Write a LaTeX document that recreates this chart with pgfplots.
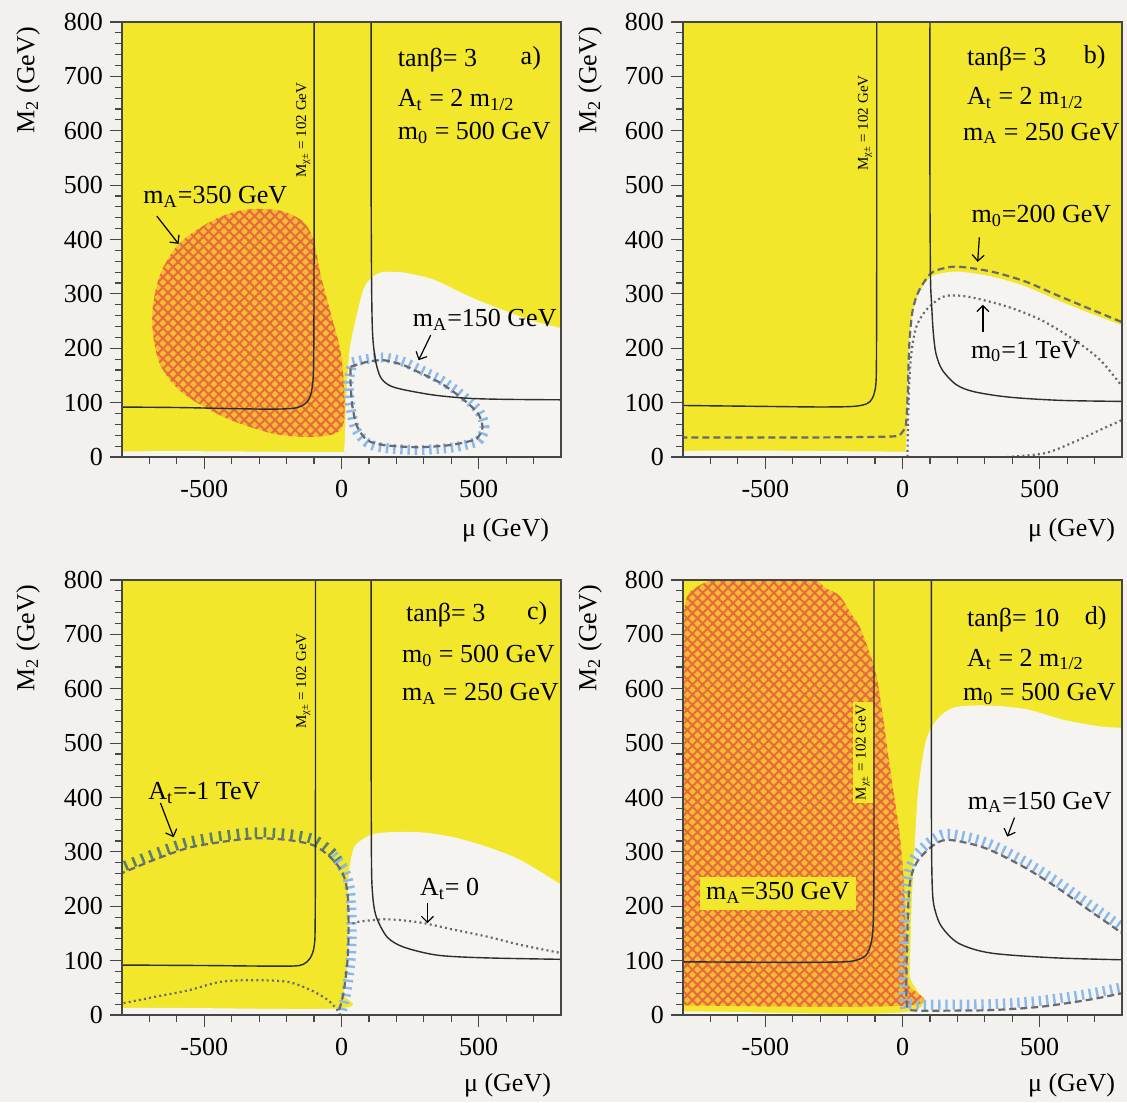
\documentclass[border=0pt]{standalone}
\usepackage{fontspec}
\setmainfont{Liberation Serif}
\usepackage{pgfplots}
\pgfplotsset{compat=1.18}
\usetikzlibrary{patterns.meta, arrows.meta}

\definecolor{ybg}{RGB}{242,231,42}
\definecolor{wbg}{RGB}{245,244,240}
\definecolor{pagebg}{RGB}{242,241,237}
\definecolor{orng}{RGB}{244,188,48}
\definecolor{hred}{RGB}{232,105,62}
\definecolor{hblue}{RGB}{140,185,235}
\definecolor{hgreen}{RGB}{90,130,105}
\definecolor{frameclr}{RGB}{70,70,70}
\definecolor{curveclr}{RGB}{45,45,45}
\definecolor{dline}{RGB}{105,105,115}

\newcommand{\fs}{\fontsize{13}{15}\selectfont}
\newcommand{\fsm}{\fontsize{7.5}{8}\selectfont}

\pgfplotsset{
  panel/.style={
    scale only axis, width=219.5pt, height=217.5pt, anchor=south west,
    xmin=-800, xmax=800, ymin=0, ymax=800,
    xtick={-500,0,500},
    minor xtick={-700,-600,-400,-300,-200,-100,100,200,300,400,600,700},
    ytick={0,100,...,800}, minor y tick num=4,
    xtick pos=left, ytick pos=left, tick align=outside,
    major tick length=6pt, minor tick length=3.5pt,
    every tick/.append style={frameclr, line width=0.6pt},
    axis line style={frameclr, line width=0.7pt},
    axis on top=true,
    tick label style={font=\fs, black},
    /pgf/number format/assume math mode=true,
    xticklabel style={yshift=-2pt},
  },
  solidc/.style={curveclr, line width=0.7pt, smooth, no marks},
  dashc/.style={dline, line width=1.1pt, dash pattern=on 3.5pt off 2pt, smooth, no marks},
  dotc/.style={dline, line width=1.1pt, dash pattern=on 1pt off 1.6pt, smooth, no marks},
  reg/.style={draw=none, smooth, no marks},
  bg/.style={draw=none, sharp plot, no marks, fill=ybg},
  xhatch/.style={reg, fill=orng, postaction={pattern={Hatch[angle=45, distance=3.6pt, line width=1pt]}, pattern color=hred}},
  hatch/.style={smooth, no marks, line width=5pt, dash pattern=on 1.2pt off 2.4pt, #1},
}

\begin{document}%
\pagecolor{pagebg}%
\begin{tikzpicture}
\path[use as bounding box] (0,0) rectangle (563.5pt,551pt);

% ---------------- a)
\begin{axis}[panel, at={(61pt,322.5pt)}]
\addplot[bg] coordinates {(-800,0) (800,0) (800,800) (-800,800)};
\addplot[reg, fill=wbg] coordinates {(-850,-20) (-850,9) (-5,9) (9,12) (14,60) (16,98) (29,195) (55,260) (82,311) (115,332) (150,340) (214,340) (280,334) (347,324) (480,292) (612,266) (700,250) (800,237) (850,232) (850,-20)};
\addplot[xhatch] coordinates {(-315,456) (-223,453) (-143,434) (-103,401) (-77,337) (-37,260) (-4,195) (9,130) (9,66) (-24,43) (-117,37) (-249,43) (-422,72) (-580,118) (-660,169) (-687,227) (-687,279) (-660,337) (-600,388) (-520,420) (-448,440) (-380,452) (-315,456)};
\addplot[hatch={hblue}] coordinates {(40,174) (94,180) (153,183) (220,176) (277,163) (361,142) (434,116) (500,85) (521,55) (505,33) (481,26) (397,17) (277,13) (153,17) (94,26) (51,52) (33,92) (26,136) (40,174)};
\addplot[dashc] coordinates {(33,166) (94,175) (153,178) (220,170) (277,157) (361,136) (434,110) (496,81) (514,55) (500,38) (481,31) (397,22) (277,18) (153,22) (94,31) (58,55) (40,92) (33,136) (33,166)};
\addplot[solidc] coordinates {(-850,92) (-600,91) (-400,89) (-250,88) (-170,90) (-135,97) (-115,110) (-104,140) (-101,200) (-100,400) (-100,850)};
\addplot[solidc] coordinates {(108,850) (108,500) (110,300) (114,220) (125,175) (142,147) (170,133) (215,125) (335,114) (460,108) (600,106) (850,105)};
\node[font=\fsm, rotate=90] at (axis cs:-139,601) {M\textsubscript{χ±} = 102 GeV};
\node[font=\fs, anchor=west] at (axis cs:180,730) {tanβ= 3};
\node[font=\fs] at (axis cs:690,733) {a)};
\node[font=\fs, anchor=west] at (axis cs:180,656) {A\textsubscript{t} = 2 m\textsubscript{1/2}};
\node[font=\fs, anchor=west] at (axis cs:180,596) {m\textsubscript{0} = 500 GeV};
\node[font=\fs] at (axis cs:-460,478) {m\textsubscript{A}=350 GeV};
\draw[-{Straight Barb[length=3pt]}, line width=0.6pt] (axis cs:-673,443) -- (axis cs:-594,392);
\node[font=\fs] at (axis cs:522,252) {m\textsubscript{A}=150 GeV};
\draw[-{Straight Barb[length=3pt]}, line width=0.6pt] (axis cs:325,224) -- (axis cs:281,178);
\end{axis}

% ---------------- b)
\begin{axis}[panel, at={(341.5pt,322.5pt)}]
\addplot[bg] coordinates {(-800,0) (800,0) (800,800) (-800,800)};
\addplot[reg, fill=wbg] coordinates {(-850,-20) (-850,10) (-5,10) (11,12) (15,55) (18,117) (24,209) (35,262) (58,300) (100,330) (145,338) (205,341) (324,332) (446,314) (566,288) (685,264) (800,242) (850,232) (850,-20)};
\addplot[dashc] coordinates {(-850,36) (-600,36) (-300,36) (-100,37) (-30,38) (-11,40) (5,50) (13,62) (19,117) (25,209) (37,270) (61,307) (104,338) (150,347) (205,350) (324,341) (446,323) (566,297) (685,272) (800,248) (850,238)};
\addplot[dotc] coordinates {(18,0) (20,60) (24,130) (32,190) (50,239) (86,270) (144,294) (200,297) (266,292) (385,276) (505,252) (627,215) (721,178) (800,130)};
\addplot[dotc] coordinates {(380,0) (519,7) (627,28) (721,50) (800,68) (850,80)};
\addplot[solidc] coordinates {(-850,95) (-500,93) (-300,92) (-180,93) (-130,98) (-110,108) (-98,130) (-95,180) (-94,400) (-94,850)};
\addplot[solidc] coordinates {(100,850) (100,500) (102,330) (106,281) (112,230) (122,190) (145,160) (196,133) (261,120) (390,110) (584,104) (850,102)};
\node[font=\fsm, rotate=90] at (axis cs:-137,614) {M\textsubscript{χ±} = 102 GeV};
\node[font=\fs, anchor=west] at (axis cs:210,731) {tanβ= 3};
\node[font=\fs] at (axis cs:700,735) {b)};
\node[font=\fs, anchor=west] at (axis cs:210,660) {A\textsubscript{t} = 2 m\textsubscript{1/2}};
\node[font=\fs, anchor=west] at (axis cs:195,595) {m\textsubscript{A} = 250 GeV};
\node[font=\fs] at (axis cs:506,443) {m\textsubscript{0}=200 GeV};
\draw[-{Straight Barb[length=3pt]}, line width=0.6pt] (axis cs:280,404) -- (axis cs:274,359);
\node[font=\fs] at (axis cs:448,194) {m\textsubscript{0}=1 TeV};
\draw[-{Straight Barb[length=3pt]}, line width=0.6pt] (axis cs:293,230) -- (axis cs:293,280);
\end{axis}

% ---------------- c)
\begin{axis}[panel, at={(61pt,43.5pt)}]
\addplot[bg] coordinates {(-800,0) (800,0) (800,800) (-800,800)};
\addplot[reg, fill=wbg] coordinates {(-850,-20) (-850,12) (-15,12) (7,40) (22,101) (26,162) (24,240) (32,280) (50,312) (106,331) (167,336) (288,336) (408,327) (532,309) (652,285) (800,240) (850,225) (850,-20)};
\addplot[hatch={hgreen, dash pattern=on 1.3pt off 3.2pt}] coordinates {(-850,261) (-800,272) (-685,296) (-561,318) (-441,329) (-320,336) (-197,333) (-102,323) (-35,299) (10,267)};
\addplot[hatch={hblue}] coordinates {(-30,295) (13,264) (32,226) (37,162) (33,101) (17,40) (0,5)};
\addplot[dashc] coordinates {(-850,250) (-800,261) (-685,285) (-561,307) (-441,318) (-320,325) (-197,322) (-102,312) (-40,290) (4,261) (22,224) (26,162) (22,101) (7,40) (-11,5)};
\addplot[dotc] coordinates {(-850,16) (-685,33) (-561,45) (-441,61) (-320,64) (-197,61) (-113,46) (-51,28) (-15,9) (-5,0)};
\addplot[dotc] coordinates {(40,168) (69,172) (167,176) (288,170) (408,157) (532,144) (652,129) (800,114) (850,110)};
\addplot[solidc] coordinates {(-850,92) (-500,91) (-300,90) (-180,90) (-140,93) (-115,104) (-100,125) (-96,170) (-95,400) (-95,850)};
\addplot[solidc] coordinates {(108,850) (108,500) (109,300) (111,240) (118,200) (131,175) (167,143) (226,125) (350,110) (532,105) (850,102)};
\node[font=\fsm, rotate=90] at (axis cs:-139,614) {M\textsubscript{χ±} = 102 GeV};
\node[font=\fs, anchor=west] at (axis cs:210,735) {tanβ= 3};
\node[font=\fs] at (axis cs:713,738) {c)};
\node[font=\fs, anchor=west] at (axis cs:195,661) {m\textsubscript{0} = 500 GeV};
\node[font=\fs, anchor=west] at (axis cs:195,591) {m\textsubscript{A} = 250 GeV};
\node[font=\fs] at (axis cs:-500,408) {A\textsubscript{t}=-1 TeV};
\draw[-{Straight Barb[length=3pt]}, line width=0.6pt] (axis cs:-660,390) -- (axis cs:-612,327);
\node[font=\fs] at (axis cs:394,232) {A\textsubscript{t}= 0};
\draw[-{Straight Barb[length=3pt]}, line width=0.6pt] (axis cs:313,206) -- (axis cs:313,169);
\end{axis}

% ---------------- d)
\begin{axis}[panel, at={(341.5pt,43.5pt)}]
\addplot[bg] coordinates {(-800,0) (800,0) (800,800) (-800,800)};
\addplot[reg, fill=wbg] coordinates {(-850,-20) (-850,6) (20,6) (26,75) (33,201) (46,328) (59,423) (86,505) (125,543) (191,566) (322,569) (454,562) (586,543) (717,531) (800,528) (850,526) (850,-20)};
\addplot[xhatch] coordinates {(-850,18) (-850,700) (-800,740) (-780,775) (-720,795) (-650,805) (-350,805) (-280,785) (-230,771) (-190,740) (-151,708) (-99,632) (-72,550) (-46,455) (-10,330) (5,240) (12,150) (18,60) (30,18) (-850,18)};
\addplot[hatch={hblue}] coordinates {(10,12) (3,40) (5,120) (15,240) (42,288) (100,319) (157,333) (239,327) (321,314) (443,283) (561,246) (679,204) (800,161) (850,136)};
\addplot[hatch={hblue}] coordinates {(25,21) (60,19) (150,19) (321,20) (500,26) (679,39) (800,51) (850,56)};
\addplot[dashc] coordinates {(850,45) (800,40) (679,28) (500,15) (321,9) (150,8) (60,8) (20,12) (14,40) (16,120) (25,235) (50,279) (104,309) (157,322) (239,316) (321,303) (443,272) (561,235) (679,193) (800,150) (850,125)};
\addplot[solidc] coordinates {(-850,98) (-500,97) (-300,97) (-204,98) (-160,102) (-130,112) (-112,138) (-106,180) (-104,300) (-104,850)};
\addplot[solidc] coordinates {(105,850) (105,500) (106,300) (110,220) (120,190) (143,162) (204,132) (321,114) (561,105) (850,101)};
\node[font=\fsm, rotate=90, fill=ybg, inner sep=1.5pt] at (axis cs:-145,483) {M\textsubscript{χ±} = 102 GeV};
\node[font=\fs, anchor=west] at (axis cs:210,727) {tanβ= 10};
\node[font=\fs] at (axis cs:704,730) {d)};
\node[font=\fs, anchor=west] at (axis cs:210,654) {A\textsubscript{t} = 2 m\textsubscript{1/2}};
\node[font=\fs, anchor=west] at (axis cs:195,591) {m\textsubscript{0} = 500 GeV};
\node[font=\fs, fill=ybg, inner sep=3pt] at (axis cs:-454,224) {m\textsubscript{A}=350 GeV};
\node[font=\fs] at (axis cs:500,391) {m\textsubscript{A}=150 GeV};
\draw[-{Straight Barb[length=3pt]}, line width=0.6pt] (axis cs:408,363) -- (axis cs:382,328);
\end{axis}

% axis labels
\node[font=\fs, anchor=east] at (278pt,286pt) {μ (GeV)};
\node[font=\fs, anchor=east] at (561pt,286pt) {μ (GeV)};
\node[font=\fs, anchor=east] at (279pt,8.5pt) {μ (GeV)};
\node[font=\fs, anchor=east] at (561pt,8.5pt) {μ (GeV)};
\node[font=\fs, rotate=90, anchor=east] at (14pt,541pt) {M\textsubscript{2} (GeV)};
\node[font=\fs, rotate=90, anchor=east] at (295pt,541pt) {M\textsubscript{2} (GeV)};
\node[font=\fs, rotate=90, anchor=east] at (14pt,262pt) {M\textsubscript{2} (GeV)};
\node[font=\fs, rotate=90, anchor=east] at (295pt,262pt) {M\textsubscript{2} (GeV)};
\end{tikzpicture}
\end{document}
